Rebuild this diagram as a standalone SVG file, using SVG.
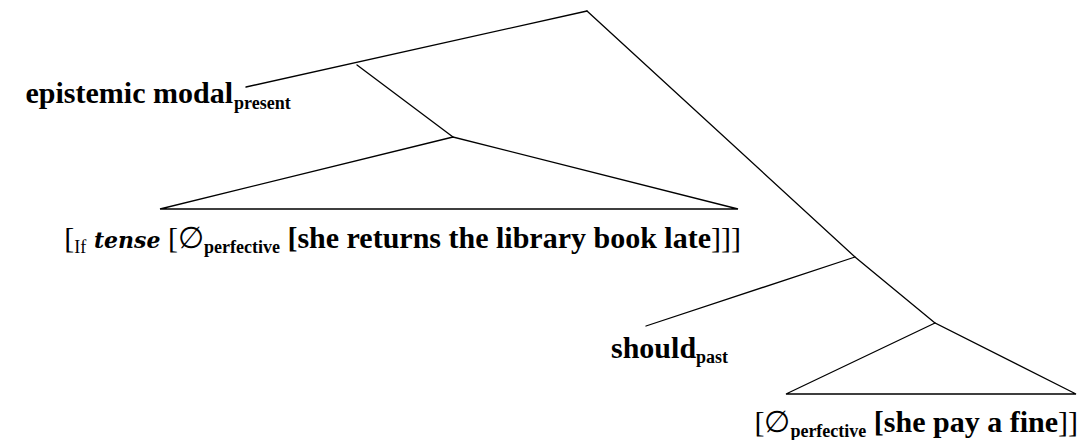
<svg xmlns="http://www.w3.org/2000/svg" width="1084" height="440" viewBox="0 0 1084 440">
<style>
.e{stroke:#000;stroke-width:1.3;fill:none;stroke-linecap:round}
.t{font-family:"Liberation Serif","Times New Roman",serif;font-size:30px;fill:#000}
.b{font-weight:bold}
.n{font-weight:normal}
.s{font-size:18px}
.it{font-family:"DejaVu Serif",serif;font-style:italic;font-weight:bold;font-size:22px}
</style>
<rect width="1084" height="440" fill="#fff"/>
<g id="connectors">
<line class="e" x1="587" y1="11" x2="246" y2="87"/>
<line class="e" x1="357" y1="65" x2="453" y2="137"/>
<polygon class="e" points="453,137 160,209 738,209"/>
<polyline class="e" points="587,11 855,257 935,323"/>
<line class="e" x1="855" y1="257" x2="646" y2="326"/>
<polygon class="e" points="935,323 786,394 1076,394"/>
</g>
<g id="node-modal">
<text class="t b" x="233" y="103" text-anchor="end">epistemic modal</text>
<text class="t b s" x="234" y="109">present</text>
</g>
<g id="node-if">
<text class="t" x="741" y="248" text-anchor="end"><tspan class="n">[</tspan><tspan class="s n" dy="5">If</tspan><tspan class="it" dy="-5"> tense</tspan><tspan class="n"> [∅</tspan><tspan class="s b" dy="5">perfective</tspan><tspan class="b" dy="-5"> [she returns the library book late</tspan><tspan class="n">]]]</tspan></text>
</g>
<g id="node-should">
<text class="t b" x="611" y="358">should<tspan class="s" dy="5">past</tspan></text>
</g>
<g id="node-fine">
<text class="t" x="1078" y="432" text-anchor="end"><tspan class="n">[∅</tspan><tspan class="s b" dy="5">perfective</tspan><tspan class="b" dy="-5"> [she pay a fine</tspan><tspan class="n">]]</tspan></text>
</g>
</svg>
